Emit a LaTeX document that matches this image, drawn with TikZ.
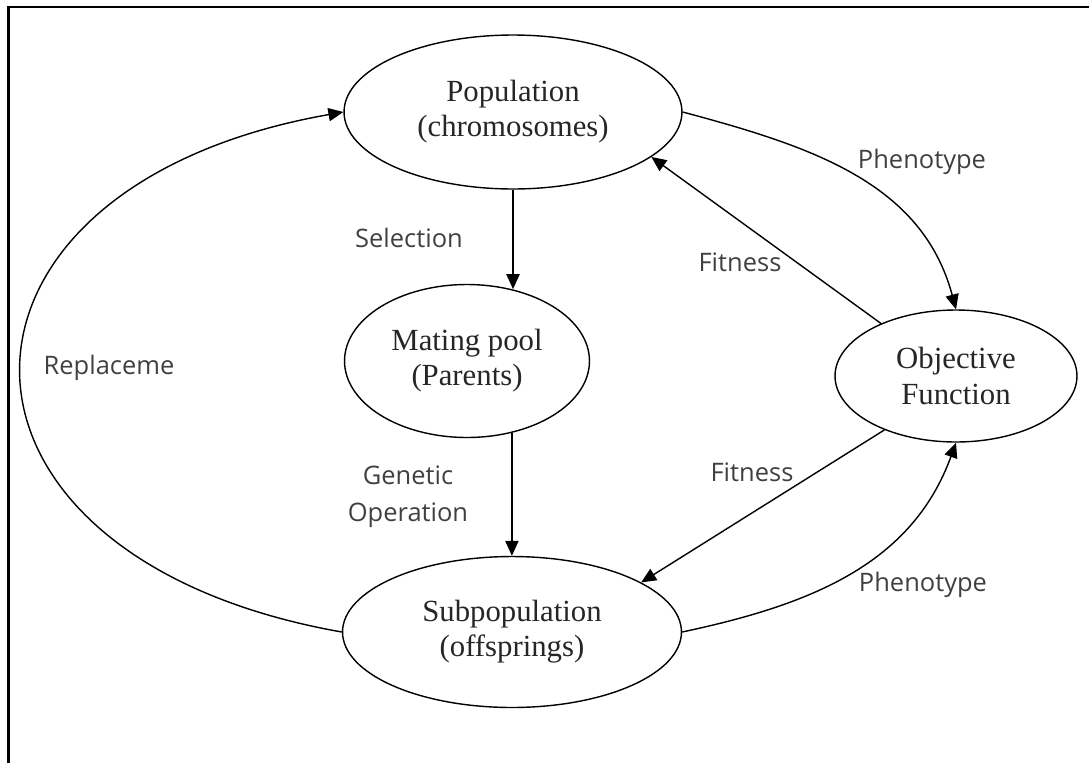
\documentclass[tikz,border=0pt]{standalone}
\usepackage{fontspec}
\setmainfont{Liberation Serif}
\newfontfamily\edgefont{Open Sans}
\usetikzlibrary{arrows.meta,shapes.geometric,positioning,calc}

\begin{document}
\begin{tikzpicture}[x=0.02cm, y=0.02cm, line width=0.8pt,
    >={Triangle[length=8.5pt, width=7.5pt]},
    every stage/.style={ellipse, draw, inner sep=0pt, align=center,
      font=\fontsize{17.5}{20}\selectfont, text=black!85},
    lbl/.style={align=center, font=\edgefont\fontsize{14.5}{21}\selectfont,
      text=black!75, inner sep=0pt}]
    \useasboundingbox (0,0) rectangle (1089,-762);
    \draw[line width=1.6pt] (8.5,-780) -- (8.5,-7) -- (1100,-7);

    \node[every stage, minimum width=6.76cm, minimum height=3.08cm] (pop) at (513,-112) {Population\\(chromosomes)};
    \node[every stage, minimum width=4.9cm, minimum height=3.06cm] (mate) at (467,-361) {Mating pool\\(Parents)};
    \node[every stage, minimum width=6.78cm, minimum height=3.02cm] (sub) at (512,-632) {Subpopulation\\(offsprings)};
    \node[every stage, minimum width=4.84cm, minimum height=2.64cm] (obj) at (956,-376) {Objective\\Function};

    \node[lbl] (sel) at (409,-238) {Selection};
    \node[lbl] (gen) at (408,-497) {Genetic\\Operation};
    \node[lbl] (rep) at (109,-368) {Replaceme};
    \node[lbl] (phenoA) at (922,-162) {Phenotype};
    \node[lbl] (fitA) at (740,-262) {Fitness};
    \node[lbl] (fitB) at (752,-472) {Fitness};
    \node[lbl] (phenoB) at (923,-585) {Phenotype};

    \path[->]
      (pop.south) edge (pop.south |- mate.58)
      (mate.-58) edge (mate.-58 |- sub.north)
      (pop.east) edge [out=-15, in=105] (obj.north)
      (obj.145) edge (pop.-18)
      (obj.217) edge (sub.21)
      (sub.east) edge [out=12, in=-110] (obj.south);
    \draw[->] (sub.west) .. controls +(170:8.7cm) and +(190:8.7cm) .. (pop.west);
  \end{tikzpicture}
\end{document}
